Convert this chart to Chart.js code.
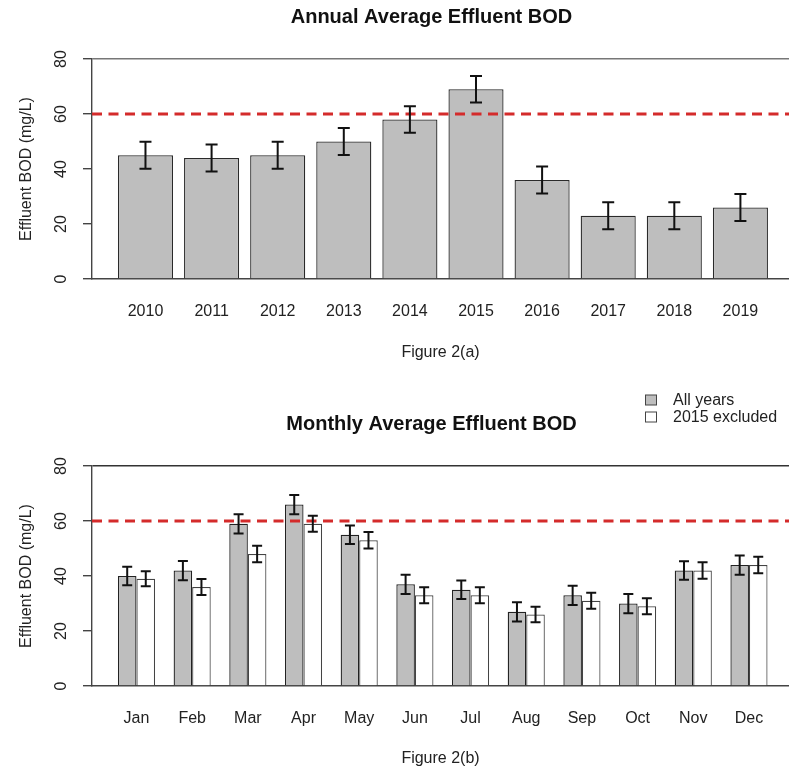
<!DOCTYPE html>
<html lang="en">
<head>
  <meta charset="UTF-8" />
  <title>Effluent BOD</title>
  <script src="https://cdn.jsdelivr.net/npm/chart.js"></script>
  <style>
    body { margin: 0; background: #fff; }
    canvas { position: absolute; left: 0; }
  </style>
</head>
<body>
  <canvas id="annual" width="789" height="380" style="top:0"></canvas>
  <canvas id="monthly" width="789" height="389" style="top:380px"></canvas>

  <script>
    // values
    const years = ['2010', '2011', '2012', '2013', '2014', '2015', '2016', '2017', '2018', '2019'];
    const annualMean = [45, 44, 45, 50, 58, 69, 36, 23, 23, 26];
    const annualErr = [4.9, 4.9, 4.9, 4.9, 4.8, 4.8, 4.9, 4.9, 4.9, 4.9];

    const months = ['Jan', 'Feb', 'Mar', 'Apr', 'May', 'Jun', 'Jul', 'Aug', 'Sep', 'Oct', 'Nov', 'Dec'];
    const allYearsMean = [40, 42, 59, 66, 55, 37, 35, 27, 33, 30, 42, 44];
    const allYearsErr = [3.4, 3.5, 3.5, 3.5, 3.4, 3.5, 3.4, 3.5, 3.5, 3.5, 3.4, 3.5];
    const excl2015Mean = [39, 36, 48, 59, 53, 33, 33, 26, 31, 29, 42, 44];
    const excl2015Err = [2.7, 2.9, 3.0, 2.9, 3.0, 2.9, 2.9, 2.8, 2.9, 2.9, 3.0, 3.0];

    const yTicks = [0, 20, 40, 60, 80];
    const bodLimit = 60;

    Chart.defaults.font.family = '"Liberation Sans", Arial, sans-serif';
    Chart.defaults.font.size = 16;
    Chart.defaults.color = '#222';

    const decor = {
      id: 'decor',
      afterDatasetsDraw(chart, args, opts) {
        const { ctx, chartArea: a, scales: { y } } = chart;
        ctx.save();
        // discharge limit
        const yl = y.getPixelForValue(bodLimit);
        ctx.strokeStyle = '#d42b2b';
        ctx.lineWidth = 3;
        ctx.setLineDash([10, 6.5]);
        ctx.beginPath();
        ctx.moveTo(a.left, yl);
        ctx.lineTo(a.right, yl);
        ctx.stroke();
        ctx.setLineDash([]);
        // error bars
        ctx.strokeStyle = '#111';
        ctx.lineWidth = 2;
        chart.data.datasets.forEach((ds, di) => {
          chart.getDatasetMeta(di).data.forEach((bar, i) => {
            const v = ds.data[i].y, e = ds.errors[i];
            const t = y.getPixelForValue(v + e), b = y.getPixelForValue(v - e);
            ctx.beginPath();
            ctx.moveTo(bar.x, t); ctx.lineTo(bar.x, b);
            ctx.moveTo(bar.x - opts.cap, t); ctx.lineTo(bar.x + opts.cap, t);
            ctx.moveTo(bar.x - opts.cap, b); ctx.lineTo(bar.x + opts.cap, b);
            ctx.stroke();
          });
        });
        ctx.restore();
      },
      afterDraw(chart, args, opts) {
        const { ctx, chartArea: a, scales: { y } } = chart;
        ctx.save();
        ctx.fillStyle = '#222';
        ctx.font = '16px "Liberation Sans", Arial, sans-serif';
        ctx.textAlign = 'center';
        ctx.textBaseline = 'middle';
        // y tick labels, rotated like R's default
        y.ticks.forEach(t => {
          ctx.save();
          ctx.translate(62, y.getPixelForValue(t.value));
          ctx.rotate(-Math.PI / 2);
          ctx.fillText(String(t.value), 0, 0);
          ctx.restore();
        });
        // title
        ctx.fillStyle = '#111';
        ctx.font = 'bold 20px "Liberation Sans", Arial, sans-serif';
        ctx.fillText(opts.title, (a.left + a.right) / 2 - 9, opts.titleY);
        // legend
        if (opts.legend) {
          ctx.font = '16px "Liberation Sans", Arial, sans-serif';
          ctx.textAlign = 'left';
          chart.data.datasets.forEach((ds, i) => {
            const cy = opts.legendY + i * 17;
            ctx.fillStyle = ds.backgroundColor;
            ctx.fillRect(645.5, cy - 5, 11, 10);
            ctx.strokeStyle = '#444';
            ctx.lineWidth = 1;
            ctx.strokeRect(645.5, cy - 5, 11, 10);
            ctx.fillStyle = '#222';
            ctx.fillText(ds.label, 673, cy + 1);
          });
        }
        ctx.restore();
      }
    };

    function makeChart(id, cfg) {
      return new Chart(document.getElementById(id), {
        type: 'bar',
        data: { datasets: cfg.datasets },
        plugins: [decor],
        options: {
          responsive: false,
          animation: false,
          devicePixelRatio: 1,
          layout: { padding: { top: cfg.areaTop, left: 0, right: 0, bottom: 0 } },
          categoryPercentage: cfg.catPct,
          barPercentage: cfg.barPct,
          plugins: {
            legend: { display: false },
            tooltip: { enabled: false },
            decor: { cap: cfg.cap, title: cfg.title, titleY: cfg.titleY, legend: cfg.legend, legendY: cfg.legendY }
          },
          scales: {
            x: {
              type: 'linear',
              offset: false,
              min: cfg.xMin,
              max: cfg.xMax,
              afterBuildTicks: s => { s.ticks = cfg.labels.map((_, i) => ({ value: i })); },
              afterFit: s => { s.height = cfg.xHeight; },
              ticks: {
                autoSkip: false,
                maxRotation: 0,
                padding: cfg.tickPad,
                color: '#222',
                callback: v => cfg.labels[v]
              },
              grid: { display: false, drawTicks: false, offset: false },
              border: { display: true, color: '#444', width: 1.4 },
              title: { display: true, text: cfg.xTitle, color: '#222', padding: { top: 0, bottom: cfg.xTitlePad } }
            },
            y: {
              min: 0,
              max: 80,
              afterBuildTicks: s => { s.ticks = yTicks.map(v => ({ value: v })); },
              afterFit: s => { s.width = 92; },
              ticks: { display: false },
              grid: {
                drawOnChartArea: true,
                drawTicks: true,
                tickLength: 9,
                lineWidth: 1.4,
                tickColor: '#444',
                color: c => (c.tick && c.tick.value === 80) ? cfg.topLine : 'rgba(0,0,0,0)'
              },
              border: { display: true, color: '#444', width: 1.4 },
              title: { display: true, text: 'Effluent BOD (mg/L)', color: '#222', padding: { top: 17, bottom: 0 } }
            }
          }
        }
      });
    }

    makeChart('annual', {
      labels: years,
      datasets: [{
        label: 'Annual',
        data: annualMean.map((v, i) => ({ x: i, y: v })),
        errors: annualErr,
        backgroundColor: '#bebebe',
        borderColor: '#2a2a2a',
        borderWidth: 1.3
      }],
      xMin: -0.809, xMax: 9.735,
      catPct: 1, barPct: 1 / 1.2,
      areaTop: 59, xHeight: 101, tickPad: 23, xTitlePad: 18,
      xTitle: 'Figure 2(a)',
      title: 'Annual Average Effluent BOD', titleY: 17,
      topLine: '#777', cap: 6, legend: false
    });

    makeChart('monthly', {
      labels: months,
      datasets: [{
        label: 'All years',
        data: allYearsMean.map((v, i) => ({ x: i, y: v })),
        errors: allYearsErr,
        backgroundColor: '#bebebe',
        borderColor: '#222',
        borderWidth: 1.3
      }, {
        label: '2015 excluded',
        data: excl2015Mean.map((v, i) => ({ x: i, y: v })),
        errors: excl2015Err,
        backgroundColor: '#ffffff',
        borderColor: '#444',
        borderWidth: 1.2
      }],
      xMin: -0.799, xMax: 11.719,
      catPct: 2 / 3, barPct: 1,
      areaTop: 86, xHeight: 83, tickPad: 23, xTitlePad: 1,
      xTitle: 'Figure 2(b)',
      title: 'Monthly Average Effluent BOD', titleY: 44,
      topLine: '#333', cap: 5, legend: true, legendY: 20
    });
  </script>
</body>
</html>
